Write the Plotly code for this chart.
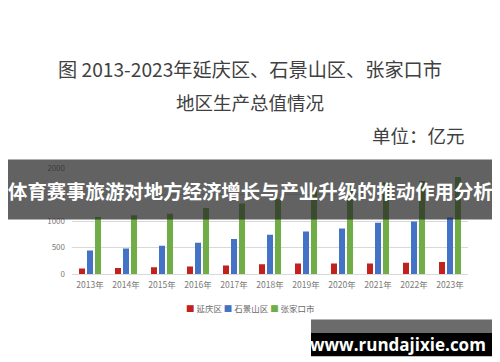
import plotly.graph_objects as go

years = ["2013年", "2014年", "2015年", "2016年", "2017年", "2018年",
         "2019年", "2020年", "2021年", "2022年", "2023年"]
yanqing = [105, 118, 132, 146, 165, 189, 200, 200, 201, 213, 231]
shijingshan = [445, 482, 537, 592, 665, 744, 806, 861, 971, 995, 1068]
zhangjiakou = [1080, 1110, 1141, 1250, 1335, 1420, 1610, 1700, 1730, 1760, 1832]
series_names = ["延庆区", "石景山区", "张家口市"]
colors = ["#C0221E", "#4472C4", "#70AD47"]
title_line1 = "图 2013-2023年延庆区、石景山区、张家口市"
title_line2 = "地区生产总值情况"
unit_text = "单位：亿元"
overlay_text = "体育赛事旅游对地方经济增长与产业升级的推动作用分析"
banner_text = "www.rundajixie.com"

W, H = 500, 362
FONT = "Noto Sans CJK SC"


def px(x):
    return x / W


def py(y):
    return 1 - y / H


fig = go.Figure()
for name, vals, col in zip(series_names, [yanqing, shijingshan, zhangjiakou], colors):
    fig.add_trace(go.Bar(x=years, y=vals, name=name, marker=dict(color=col, line=dict(width=0)),
                         showlegend=False))

fig.update_layout(
    width=W, height=H,
    margin=dict(l=0, r=0, t=0, b=0),
    paper_bgcolor="white", plot_bgcolor="white",
    barmode="group", bargap=1/3, bargroupgap=0.25,
    font=dict(family=FONT, color="#595959"),
    xaxis=dict(domain=[px(64), px(460)], showgrid=False, showline=True,
               linecolor="#D9D9D9", linewidth=1, ticks="",
               tickfont=dict(size=8.5, color="#7a7a7a", family=FONT),
               ticklabelstandoff=3),
    yaxis=dict(domain=[py(268.3), py(159)], range=[0, 2000], dtick=500,
               showgrid=True, gridcolor="#D9D9D9", gridwidth=0.8,
               zeroline=False, showline=False, ticks="",
               tickfont=dict(size=8, color="#7a7a7a", family=FONT),
               ticklabelstandoff=6),
)

annotations = [
    dict(x=px(242), y=py(57), text=title_line1, font=dict(size=19.2, color="#404040", family=FONT)),
    dict(x=px(242), y=py(90.5), text=title_line2, font=dict(size=18.5, color="#404040", family=FONT)),
    dict(x=px(459), y=py(125), text=unit_text, xanchor="right",
         font=dict(size=18.5, color="#404040", family=FONT)),
    dict(x=px(242), y=py(303.5),
         text=(f'<span style="color:{colors[0]}">■</span> {series_names[0]} '
               f'<span style="color:{colors[1]}">■</span> {series_names[1]} '
               f'<span style="color:{colors[2]}">■</span> {series_names[2]}'),
         font=dict(size=8.5, color="#6a6a6a", family=FONT)),
    dict(x=px(242), y=py(182), text="<b>" + overlay_text + "</b>",
         font=dict(size=19.4, color="white", family=FONT)),
    dict(x=px(390), y=py(341), text="<b>" + banner_text + "</b>",
         font=dict(size=17, color="white", family="Open Sans")),
]
for a in annotations:
    a.setdefault("xanchor", "center")
    a.update(xref="paper", yref="paper", showarrow=False, yanchor="middle")
fig.update_layout(annotations=annotations)

shapes = [
    dict(type="rect", x0=0, x1=1, y0=py(212), y1=py(150), fillcolor="rgba(38,38,38,0.72)",
         line=dict(width=0), layer="above"),
    dict(type="rect", x0=px(303), x1=px(492), y0=py(329), y1=py(315), fillcolor="#6b6b6b",
         line=dict(width=0), layer="above"),
    dict(type="rect", x0=px(303), x1=px(492), y0=py(353), y1=py(329), fillcolor="#000000",
         line=dict(width=0), layer="above"),
    dict(type="line", x0=px(494), x1=px(494), y0=py(260), y1=py(105),
         line=dict(color="rgba(150,150,150,0.75)", width=3), layer="above"),
]
for s in shapes:
    s.update(xref="paper", yref="paper")
fig.update_layout(shapes=shapes)

fig.write_html("out.html")
